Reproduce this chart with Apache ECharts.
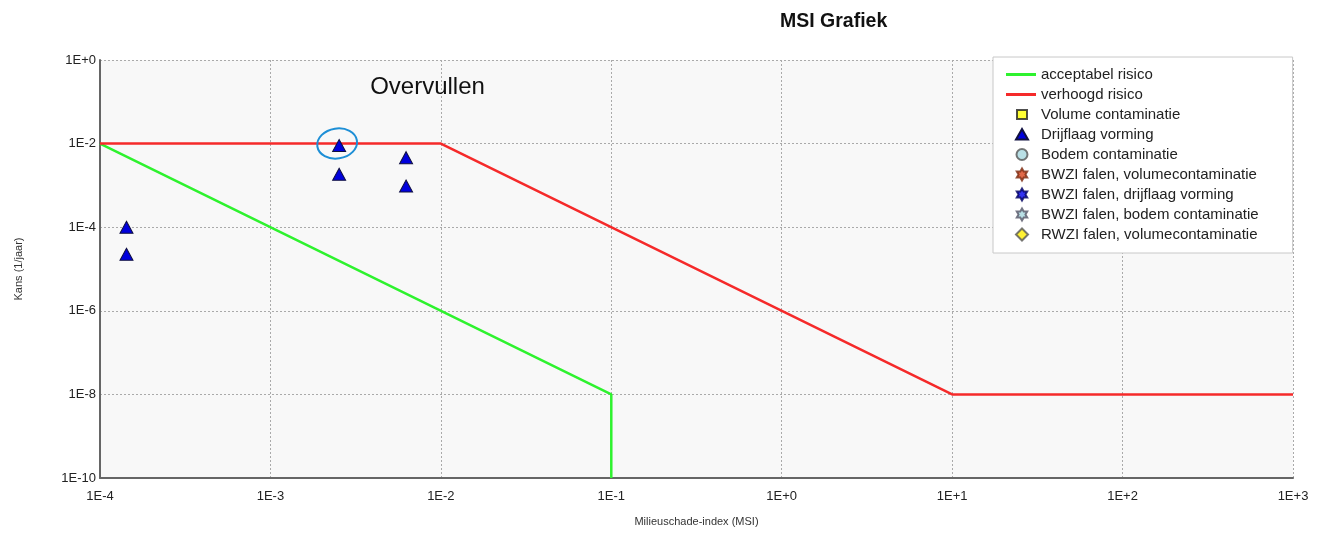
<!DOCTYPE html>
<html>
<head>
<meta charset="utf-8">
<script src="https://cdn.jsdelivr.net/npm/echarts@6/dist/echarts.min.js"></script>
<style>
html,body{margin:0;padding:0;background:#fff;}
#c{width:1327px;height:533px;}
</style>
</head>
<body>
<div id="c"></div>
<script>
// ---- data ----
var seriesNames = ['acceptabel risico','verhoogd risico','Volume contaminatie','Drijflaag vorming','Bodem contaminatie','BWZI falen, volumecontaminatie','BWZI falen, drijflaag vorming','BWZI falen, bodem contaminatie','RWZI falen, volumecontaminatie'];
var acceptX = [1e-4, 1e-1, 1e-1];
var acceptY = [1e-2, 1e-8, 1e-10];
var verhoogdX = [1e-4, 1e-2, 1e1, 1e3];
var verhoogdY = [1e-2, 1e-2, 1e-8, 1e-8];
var drijflaagX = [1.43e-4, 1.43e-4, 2.53e-3, 2.53e-3, 6.25e-3, 6.25e-3];
var drijflaagY = [1e-4, 2.25e-5, 9e-3, 1.85e-3, 4.6e-3, 9.7e-4];
var xTickExp = [-4,-3,-2,-1,0,1,2,3];
var yTickExp = [0,-2,-4,-6,-8,-10];
var annotationText = 'Overvullen';

function zip(a,b){return a.map(function(v,i){return [v,b[i]];});}
function fmt(v){var e=Math.round(Math.log10(v));return '1E'+(e>=0?'+':'')+e;}

// legend icons: bounding box fixed to 30x12 (via move-to points) so shapes keep their aspect
var box = 'M0,0 M30,12 ';
var lineIcon = 'path://M0,0 L30,0 L30,3 L0,3 Z';
var rectIcon = 'path://' + box + 'M11,1.5 L21,1.5 L21,10.5 L11,10.5 Z';
var triIcon = 'path://' + box + 'M16,0.5 L22,11 L10,11 Z';
var circIcon = 'path://' + box + 'M16,0.5 A5.5,5.5 0 1 1 15.99,0.5 Z';
var diaIcon = 'path://' + box + 'M16,0 L22,6 L16,12 L10,6 Z';
var starIcon = 'path://' + box + 'M16,0 L17.73,3 L21.2,3 L19.46,6 L21.2,9 L17.73,9 L16,12 L14.27,9 L10.8,9 L12.54,6 L10.8,3 L14.27,3 Z';
var star6 = 'path://M0,-10 L2.89,-5 L8.66,-5 L5.77,0 L8.66,5 L2.89,5 L0,10 L-2.89,5 L-8.66,5 L-5.77,0 L-8.66,-5 L-2.89,-5 Z';
var font = '"Liberation Sans", Arial, sans-serif';

var chart = echarts.init(document.getElementById('c'), null, {renderer:'canvas'});
var option = {
  animation:false,
  backgroundColor:'#ffffff',
  title:{text:'MSI Grafiek', left:775, top:7, textStyle:{fontFamily:font,fontSize:19.5,fontWeight:'bold',color:'#111'}},
  grid:{left:100, right:34, top:60, bottom:55, show:true, backgroundColor:'#f8f8f8', borderWidth:0},
  xAxis:{
    type:'log', logBase:10, min:Math.pow(10,xTickExp[0]), max:Math.pow(10,xTickExp[xTickExp.length-1]), interval:1,
    name:'Milieuschade-index (MSI)', nameLocation:'middle', nameGap:38,
    nameTextStyle:{fontFamily:font,fontSize:11,color:'#333'},
    axisLine:{show:true,onZero:false,lineStyle:{color:'#666',width:2}},
    axisTick:{show:false}, minorTick:{show:false},
    axisLabel:{formatter:fmt, fontFamily:font, fontSize:13, color:'#222', margin:12},
    splitLine:{show:true,lineStyle:{color:'#aaa',type:[2,2],width:1}}
  },
  yAxis:{
    type:'log', logBase:10, min:Math.pow(10,yTickExp[yTickExp.length-1]), max:Math.pow(10,yTickExp[0]), interval:2,
    name:'Kans (1/jaar)', nameLocation:'middle', nameGap:76, nameRotate:90,
    nameTextStyle:{fontFamily:font,fontSize:11,color:'#333'},
    axisLine:{show:true,onZero:false,lineStyle:{color:'#666',width:2}},
    axisTick:{show:false}, minorTick:{show:false},
    axisLabel:{formatter:fmt, fontFamily:font, fontSize:13, color:'#222', margin:4},
    splitLine:{show:true,lineStyle:{color:'#aaa',type:[2,2],width:1}}
  },
  legend:{
    orient:'vertical', left:993, top:57,
    padding:[10,34,11,12],
    backgroundColor:'#ffffff', borderColor:'#c8c8c8', borderWidth:1,
    itemWidth:30, itemHeight:12, itemGap:5,
    textStyle:{fontFamily:font,fontSize:15,color:'#222',lineHeight:15},
    data:[
      {name:seriesNames[0], icon:lineIcon},
      {name:seriesNames[1], icon:lineIcon},
      {name:seriesNames[2], icon:rectIcon},
      {name:seriesNames[3], icon:triIcon},
      {name:seriesNames[4], icon:circIcon},
      {name:seriesNames[5], icon:starIcon},
      {name:seriesNames[6], icon:starIcon},
      {name:seriesNames[7], icon:starIcon},
      {name:seriesNames[8], icon:diaIcon}
    ]
  },
  series:[
    {name:seriesNames[0], type:'line', data:zip(acceptX,acceptY), showSymbol:false, symbol:'none', color:'#2ef22e', lineStyle:{color:'#2ef22e',width:2.5}, z:3},
    {name:seriesNames[1], type:'line', data:zip(verhoogdX,verhoogdY), showSymbol:false, symbol:'none', color:'#f52a2a', lineStyle:{color:'#f52a2a',width:2.5}, z:3},
    {name:seriesNames[2], type:'scatter', data:[], symbol:'rect', itemStyle:{color:'#ffff00',borderColor:'#222',borderWidth:1}},
    {name:seriesNames[3], type:'scatter', data:zip(drijflaagX,drijflaagY), symbol:'triangle', symbolSize:[13,12], itemStyle:{color:'#0000dd',borderColor:'#101040',borderWidth:1,opacity:1}, z:5},
    {name:seriesNames[4], type:'scatter', data:[], symbol:'circle', itemStyle:{color:'#a8d8e0',borderColor:'#555',borderWidth:1}},
    {name:seriesNames[5], type:'scatter', data:[], symbol:star6, itemStyle:{color:'#d9441a',borderColor:'#7a2a10',borderWidth:1}},
    {name:seriesNames[6], type:'scatter', data:[], symbol:star6, itemStyle:{color:'#0000ee',borderColor:'#000060',borderWidth:1}},
    {name:seriesNames[7], type:'scatter', data:[], symbol:star6, itemStyle:{color:'#a8d8e0',borderColor:'#556',borderWidth:1}},
    {name:seriesNames[8], type:'scatter', data:[], symbol:'diamond', itemStyle:{color:'#ffee00',borderColor:'#555',borderWidth:1}}
  ]
};
chart.setOption(option);

// annotation anchored to the highlighted point
var p = chart.convertToPixel({gridIndex:0}, [drijflaagX[2], drijflaagY[2]]);
chart.setOption({
  graphic:[
    {type:'ellipse', shape:{cx:p[0]-2, cy:p[1]-2, rx:20, ry:15}, rotation:0.15, originX:p[0]-2, originY:p[1]-2,
      style:{fill:'none', stroke:'#1e8fd6', lineWidth:2}, z:10},
    {type:'text', left:p[0]+31, top:p[1]-70, style:{text:annotationText, font:'24px "Liberation Sans", Arial, sans-serif', fill:'#111'}, z:10}
  ]
});
</script>
</body>
</html>
